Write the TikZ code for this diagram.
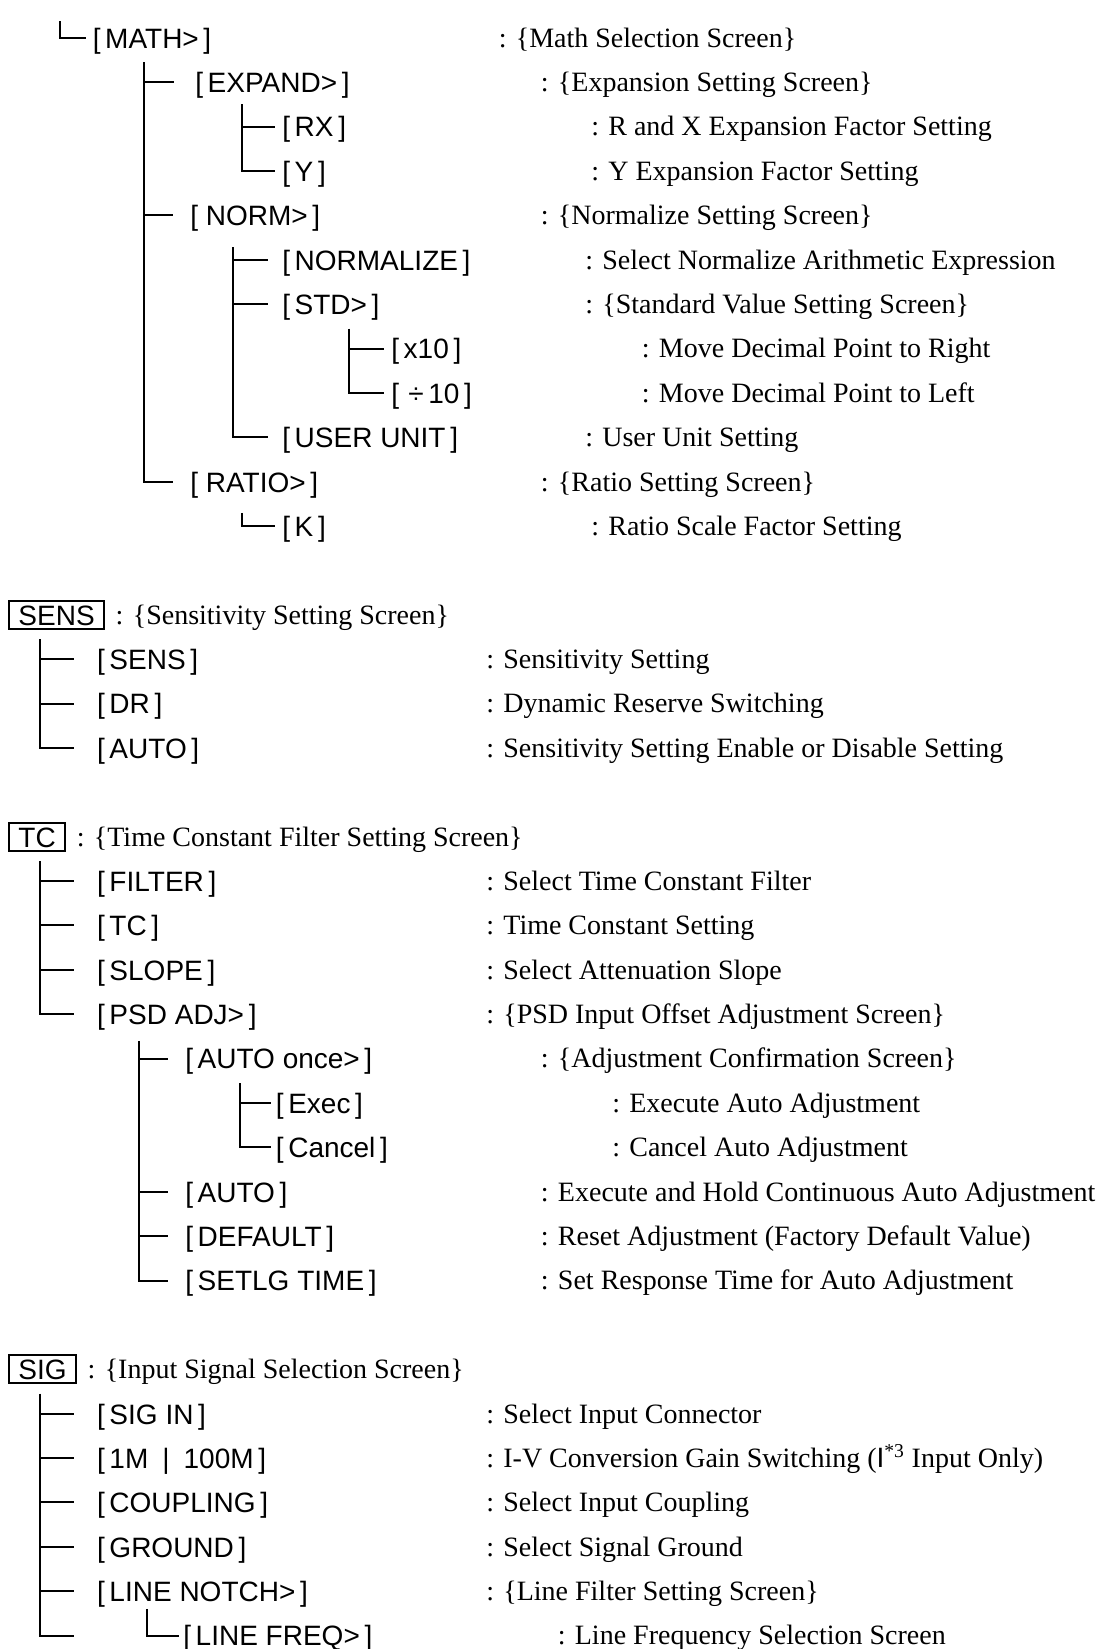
\documentclass[tikz,border=0pt]{standalone}
\usepackage{fontspec}
\setmainfont{Liberation Serif}
\newfontfamily\keyfamily{Liberation Sans}
\usetikzlibrary{positioning}

\begin{document}
\begin{tikzpicture}[
    x=0.75pt, y=-33.285pt,
    every node/.style={inner sep=0pt},
    key/.style={font=\keyfamily\fontsize{21}{25}\selectfont, anchor=west, text height=15.5pt, text depth=0pt},
    desc/.style={font=\fontsize{21}{25}\selectfont, anchor=west, text height=14pt, text depth=0pt},
    menubox/.style={key, draw, line width=1.5pt, inner xsep=6.8pt, inner ysep=2.8pt},
    tree/.style={line width=1.5pt},
]
\useasboundingbox (0,-0.854) rectangle (1096,36.303);

% ---- MATH menu ----
\coordinate (mathtop) at (60,-0.38);
\node[key] (math) at (92.5,0) {[\,MATH>\,]};
\node[desc] (mathd) at (498.5,0) {: \{Math Selection Screen\}};
\draw[tree] (mathtop) |- ([xshift=-4.9pt]math.west);

\coordinate (mathtrunk) at (144,0.55);
\node[key] (expand) at (195,1) {[\,EXPAND>\,]};
\node[desc] (expandd) at (540.6,1) {: \{Expansion Setting Screen\}};
\coordinate (expandtrunk) at (242,1.5);
\node[key] (rx) at (282,2) {[\,RX\,]};
\node[desc] (rxd) at (591,2) {: R and X Expansion Factor Setting};
\node[key] (yfac) at (282,3) {[\,Y\,]};
\node[desc] (yfacd) at (591,3) {: Y Expansion Factor Setting};

\node[key] (norm) at (190,4) {[ NORM>\,]};
\node[desc] (normd) at (540.6,4) {: \{Normalize Setting Screen\}};
\coordinate (normtrunk) at (233.5,4.72);
\node[key] (normalize) at (282,5) {[\,NORMALIZE\,]};
\node[desc] (normalized) at (585,5) {: Select Normalize Arithmetic Expression};
\node[key] (std) at (282,6) {[\,STD>\,]};
\node[desc] (stdd) at (585,6) {: \{Standard Value Setting Screen\}};
\coordinate (stdtrunk) at (349,6.55);
\node[key] (timesten) at (391,7) {[\,x10\,]};
\node[desc] (timestend) at (641.6,7) {: Move Decimal Point to Right};
\node[key] (divten) at (391,8) {[\,\,÷\,10\,]};
\node[desc] (divtend) at (641.6,8) {: Move Decimal Point to Left};
\node[key] (userunit) at (282,9) {[\,USER UNIT\,]};
\node[desc] (userunitd) at (585,9) {: User Unit Setting};

\node[key] (ratio) at (190,10) {[ RATIO>\,]};
\node[desc] (ratiod) at (540.6,10) {: \{Ratio Setting Screen\}};
\coordinate (ratiotrunk) at (242,10.7);
\node[key] (kfac) at (282,11) {[\,K\,]};
\node[desc] (kfacd) at (591,11) {: Ratio Scale Factor Setting};

\draw[tree] (mathtrunk) |- ([xshift=-12.4pt]ratio.west);
\draw[tree] (mathtrunk |- expand) -- ([xshift=-16pt]expand.west);
\draw[tree] (mathtrunk |- norm) -- ([xshift=-12.4pt]norm.west);
\draw[tree] (expandtrunk) |- ([xshift=-4.9pt]yfac.west);
\draw[tree] (expandtrunk |- rx) -- ([xshift=-4.9pt]rx.west);
\draw[tree] (normtrunk) |- ([xshift=-10.5pt]userunit.west);
\draw[tree] (normtrunk |- normalize) -- ([xshift=-10.5pt]normalize.west);
\draw[tree] (normtrunk |- std) -- ([xshift=-10.5pt]std.west);
\draw[tree] (stdtrunk) |- ([xshift=-5.2pt]divten.west);
\draw[tree] (stdtrunk |- timesten) -- ([xshift=-5.2pt]timesten.west);
\draw[tree] (ratiotrunk) |- ([xshift=-4.9pt]kfac.west);

% ---- SENS key ----
\node[menubox, anchor=west] (sens) at (8.4,13) {SENS};
\node[desc, right=8pt of sens] (sensd) {: \{Sensitivity Setting Screen\}};
\coordinate (senstrunk) at (40,13.55);
\node[key] (senssub) at (96.8,14) {[\,SENS\,]};
\node[desc] (senssubd) at (486,14) {: Sensitivity Setting};
\node[key] (dr) at (96.8,15) {[\,DR\,]};
\node[desc] (drd) at (486,15) {: Dynamic Reserve Switching};
\node[key] (sensauto) at (96.8,16) {[\,AUTO\,]};
\node[desc] (sensautod) at (486,16) {: Sensitivity Setting Enable or Disable Setting};

\draw[tree] (senstrunk) |- ([xshift=-17.4pt]sensauto.west);
\draw[tree] (senstrunk |- senssub) -- ([xshift=-17.4pt]senssub.west);
\draw[tree] (senstrunk |- dr) -- ([xshift=-17.4pt]dr.west);

% ---- TC key ----
\node[menubox, anchor=west] (tc) at (8.4,18) {TC};
\node[desc, right=8pt of tc] (tcd) {: \{Time Constant Filter Setting Screen\}};
\coordinate (tctrunk) at (40,18.55);
\node[key] (filter) at (96.8,19) {[\,FILTER\,]};
\node[desc] (filterd) at (486,19) {: Select Time Constant Filter};
\node[key] (tcsub) at (96.8,20) {[\,TC\,]};
\node[desc] (tcsubd) at (486,20) {: Time Constant Setting};
\node[key] (slope) at (96.8,21) {[\,SLOPE\,]};
\node[desc] (sloped) at (486,21) {: Select Attenuation Slope};
\node[key] (psdadj) at (96.8,22) {[\,PSD ADJ>\,]};
\node[desc] (psdadjd) at (486,22) {: \{PSD Input Offset Adjustment Screen\}};

\coordinate (psdtrunk) at (138.8,22.6);
\node[key] (autoonce) at (185,23) {[\,AUTO once>\,]};
\node[desc] (autoonced) at (540.6,23) {: \{Adjustment Confirmation Screen\}};
\coordinate (oncetrunk) at (239.8,23.55);
\node[key] (exec) at (275.6,24) {[\,Exec\,]};
\node[desc] (execd) at (612,24) {: Execute Auto Adjustment};
\node[key] (cancel) at (275.6,25) {[\,Cancel\,]};
\node[desc] (canceld) at (612,25) {: Cancel Auto Adjustment};
\node[key] (psdauto) at (185,26) {[\,AUTO\,]};
\node[desc] (psdautod) at (540.6,26) {: Execute and Hold Continuous Auto Adjustment};
\node[key] (default) at (185,27) {[\,DEFAULT\,]};
\node[desc] (defaultd) at (540.6,27) {: Reset Adjustment (Factory Default Value)};
\node[key] (setlg) at (185,28) {[\,SETLG TIME\,]};
\node[desc] (setlgd) at (540.6,28) {: Set Response Time for Auto Adjustment};

\draw[tree] (tctrunk) |- ([xshift=-17.4pt]psdadj.west);
\draw[tree] (tctrunk |- filter) -- ([xshift=-17.4pt]filter.west);
\draw[tree] (tctrunk |- tcsub) -- ([xshift=-17.4pt]tcsub.west);
\draw[tree] (tctrunk |- slope) -- ([xshift=-17.4pt]slope.west);
\draw[tree] (psdtrunk) |- ([xshift=-12.5pt]setlg.west);
\draw[tree] (psdtrunk |- autoonce) -- ([xshift=-12.5pt]autoonce.west);
\draw[tree] (psdtrunk |- psdauto) -- ([xshift=-12.5pt]psdauto.west);
\draw[tree] (psdtrunk |- default) -- ([xshift=-12.5pt]default.west);
\draw[tree] (oncetrunk) |- ([xshift=-3.2pt]cancel.west);
\draw[tree] (oncetrunk |- exec) -- ([xshift=-3.2pt]exec.west);

% ---- SIG key ----
\node[menubox, anchor=west] (sig) at (8.4,30) {SIG};
\node[desc, right=8pt of sig] (sigd) {: \{Input Signal Selection Screen\}};
\coordinate (sigtrunk) at (40,30.55);
\node[key] (sigin) at (96.8,31) {[\,SIG IN\,]};
\node[desc] (sigind) at (486,31) {: Select Input Connector};
\node[key] (gain) at (96.8,32) {[\,1M\enspace|\enspace100M\,]};
\node[desc] (gaind) at (486,32) {: I-V Conversion Gain Switching ({\keyfamily I}\textsuperscript{*3} Input Only)};
\node[key] (coupling) at (96.8,33) {[\,COUPLING\,]};
\node[desc] (couplingd) at (486,33) {: Select Input Coupling};
\node[key] (ground) at (96.8,34) {[\,GROUND\,]};
\node[desc] (groundd) at (486,34) {: Select Signal Ground};
\node[key] (notch) at (96.8,35) {[\,LINE NOTCH>\,]};
\node[desc] (notchd) at (486,35) {: \{Line Filter Setting Screen\}};
\coordinate (sigend) at (73.6,36);
\coordinate (notchtrunk) at (147,35.4);
\node[key] (linefreq) at (183,36) {[\,LINE FREQ>\,]};
\node[desc] (linefreqd) at (557.5,36) {: Line Frequency Selection Screen};

\draw[tree] (sigtrunk) |- (sigend);
\draw[tree] (sigtrunk |- sigin) -- ([xshift=-17.4pt]sigin.west);
\draw[tree] (sigtrunk |- gain) -- ([xshift=-17.4pt]gain.west);
\draw[tree] (sigtrunk |- coupling) -- ([xshift=-17.4pt]coupling.west);
\draw[tree] (sigtrunk |- ground) -- ([xshift=-17.4pt]ground.west);
\draw[tree] (sigtrunk |- notch) -- ([xshift=-17.4pt]notch.west);
\draw[tree] (notchtrunk) |- ([xshift=-3pt]linefreq.west);

\end{tikzpicture}
\end{document}
